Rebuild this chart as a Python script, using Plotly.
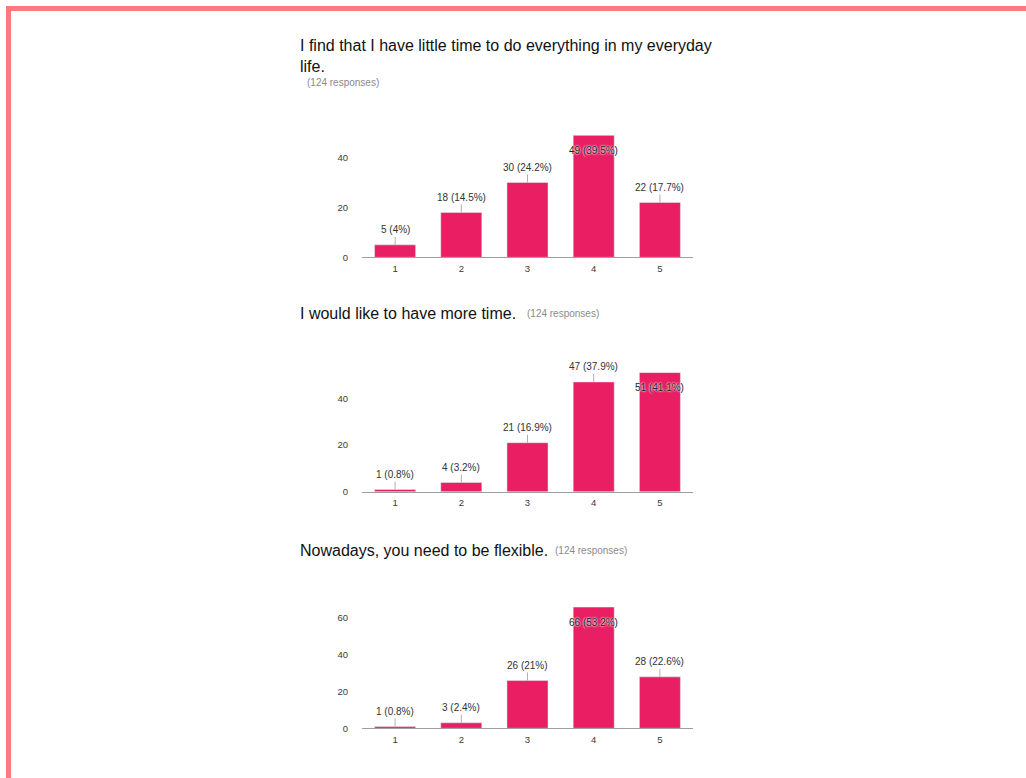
import plotly.graph_objects as go

# Likert scale answers (1 = disagree ... 5 = agree)
categories = ["1", "2", "3", "4", "5"]
total_responses = 124

titles = [
    "I find that I have little time to do everything in my everyday<br>life.",
    "I would like to have more time.",
    "Nowadays, you need to be flexible.",
]
q1_counts = [5, 18, 30, 49, 22]
q2_counts = [1, 4, 21, 47, 51]
q3_counts = [1, 3, 26, 66, 28]
y_ticks = [[0, 20, 40], [0, 20, 40], [0, 20, 40, 60]]

W, H = 1026, 778
BAR = "#E91E63"
FONT = "Liberation Sans, Arial"


def px_x(p):
    return p / W


def px_y(p):
    return 1 - p / H


# pixel layout for each panel: plot top, axis baseline, title y, response-count position
panels = [
    dict(top=136, base=259, title_y=56, resp=(305, 83)),
    dict(top=375, base=495, title_y=316, resp=(525, 316)),
    dict(top=611, base=733, title_y=554, resp=(553, 554)),
]
all_counts = [q1_counts, q2_counts, q3_counts]

fig = go.Figure()
annotations = []
x_left, x_right = 362, 693

for i, (counts, p, title, ticks) in enumerate(zip(all_counts, panels, titles, y_ticks)):
    n = i + 1
    xa = "x" if n == 1 else f"x{n}"
    ya = "y" if n == 1 else f"y{n}"
    fig.add_trace(go.Bar(
        x=categories, y=counts, marker_color=BAR, width=0.62,
        xaxis=xa, yaxis=ya, hoverinfo="skip", showlegend=False,
    ))
    top = max(counts)
    fig.update_layout(**{
        ("xaxis" if n == 1 else f"xaxis{n}"): dict(
            type="category", range=[-0.5, len(categories) - 0.5],
            domain=[px_x(x_left), px_x(x_right)], anchor=ya,
            showline=True, linecolor="#9e9e9e", linewidth=1,
            ticks="", showgrid=False, zeroline=False,
            tickfont=dict(family=FONT, size=9.5, color="#3a3a3a"),
            ticklabelstandoff=2, fixedrange=True,
        ),
        ("yaxis" if n == 1 else f"yaxis{n}"): dict(
            domain=[px_y(p["base"]), px_y(p["top"])], anchor=xa,
            range=[0, top], tickvals=ticks, showgrid=False, zeroline=False,
            showline=False, ticks="",
            tickfont=dict(family=FONT, size=9.5, color="#3a3a3a"),
            ticklabelstandoff=13, fixedrange=True,
        ),
    })

    # value labels with a short leader line; the tallest bar carries it inside
    for k, v in enumerate(counts):
        pct = f"{round(v / total_responses * 100, 1):g}"
        text = f"{v} ({pct}%)"
        if v == top:
            annotations.append(dict(
                x=k, y=v, xref=xa, yref=ya, text=text, showarrow=False,
                yshift=-15,
                font=dict(family=FONT, size=10, color="#222",
                          shadow="0px 0px 2px #fff, 0px 0px 2px #fff"),
            ))
        else:
            annotations.append(dict(
                x=k, y=v, xref=xa, yref=ya, text=text, showarrow=True,
                arrowhead=0, arrowwidth=1, arrowcolor="#b0b0b0",
                ax=0, ay=-15, standoff=0,
                font=dict(family=FONT, size=10, color="#333"),
            ))

    # question title and response count
    annotations.append(dict(
        x=px_x(298), y=px_y(p["title_y"]), xref="paper", yref="paper",
        xanchor="left", yanchor="middle", align="left", showarrow=False,
        text=title,
        font=dict(family=FONT, size=16, color="#111"),
    ))
    annotations.append(dict(
        x=px_x(p["resp"][0]), y=px_y(p["resp"][1]), xref="paper", yref="paper",
        xanchor="left", yanchor="middle", showarrow=False,
        text=f"({total_responses} responses)",
        font=dict(family=FONT, size=10, color="#8a8a8a"),
    ))

fig.update_layout(
    width=W, height=H, margin=dict(l=0, r=0, t=0, b=0),
    paper_bgcolor="white", plot_bgcolor="white",
    annotations=annotations,
    shapes=[dict(
        type="rect", xref="paper", yref="paper",
        x0=px_x(8.5), x1=px_x(1032), y0=px_y(8.5), y1=px_y(786),
        line=dict(color="#ff7b7b", width=5), fillcolor="rgba(0,0,0,0)",
    )],
)

fig.write_html("out.html")
